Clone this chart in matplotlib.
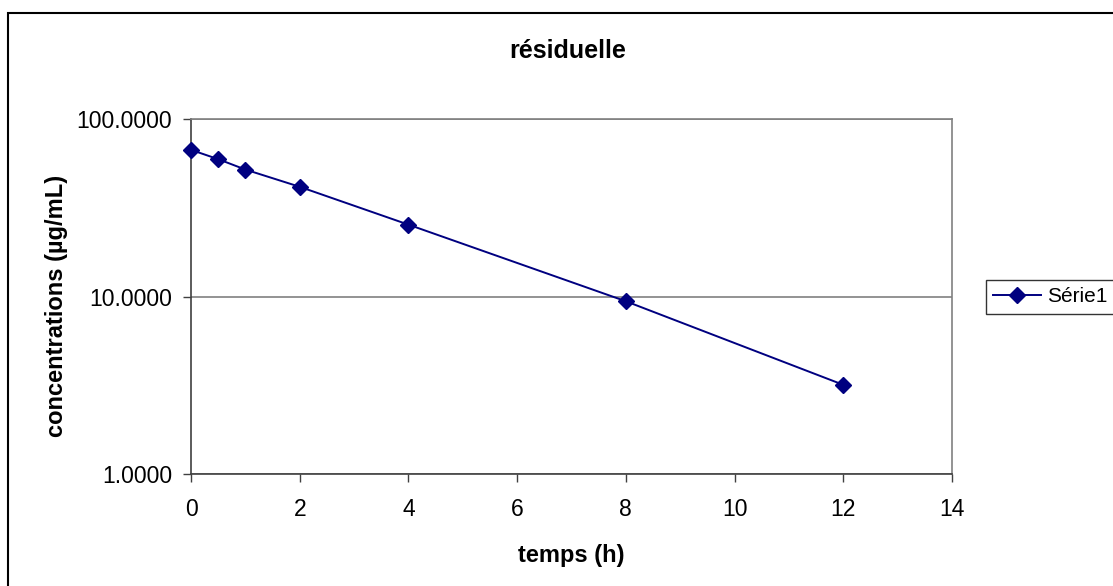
import matplotlib
matplotlib.use("Agg")
import matplotlib.pyplot as plt
from matplotlib.patches import Rectangle

plt.rcParams['font.family'] = ['Liberation Sans', 'DejaVu Sans']

temps = [0, 0.5, 1, 2, 4, 8, 12]
concentrations = [67.0, 59.4, 51.9, 41.5, 25.4, 9.4, 3.18]
series_name = "Série1"
title = "résiduelle"
xlabel = "temps (h)"
ylabel = "concentrations (µg/mL)"
xticks = [0, 2, 4, 6, 8, 10, 12, 14]
yticks = [1, 10, 100]
ytick_labels = ["1.0000", "10.0000", "100.0000"]

W, H = 1113, 586
fig = plt.figure(figsize=(W / 100, H / 100), dpi=100)

# outer chart frame
fig.patches.append(Rectangle((8 / W, -0.1), 1.2, 1 - 13 / H + 0.1,
                             transform=fig.transFigure, fill=False,
                             edgecolor='black', linewidth=1.5))

ax = fig.add_axes([191 / W, (H - 474) / H, (952 - 191) / W, (474 - 119) / H])
ax.set_yscale('log')
ax.set_xlim(0, 14)
ax.set_ylim(1, 100)

ax.plot(temps, concentrations, color='#000080', linewidth=1.4,
        marker='D', markersize=8.5, markerfacecolor='#000080',
        markeredgecolor='#000080', label=series_name, clip_on=False, zorder=5)

ax.set_xticks(xticks)
ax.set_xticklabels([str(t) for t in xticks])
ax.set_yticks(yticks)
ax.set_yticklabels(ytick_labels)
ax.yaxis.set_minor_locator(matplotlib.ticker.NullLocator())

ax.grid(axis='y', which='major', color='#808080', linewidth=1.2)
ax.tick_params(axis='both', labelsize=16.5, length=5.5, width=1, color='#404040', direction='out')
ax.tick_params(axis='x', pad=12)
ax.tick_params(axis='y', pad=8)

for s in ['top', 'right']:
    ax.spines[s].set_color('#808080')
    ax.spines[s].set_linewidth(1.2)
for s in ['left', 'bottom']:
    ax.spines[s].set_color('#404040')
    ax.spines[s].set_linewidth(1.2)

fig.text(567.5 / W, 1 - 58 / H, title, fontsize=18, fontweight='bold',
         ha='center', va='baseline')
fig.text(571.5 / W, 1 - 562 / H, xlabel, fontsize=17, fontweight='bold',
         ha='center', va='baseline')
fig.text(56 / W, 1 - 306 / H, ylabel, fontsize=17, fontweight='bold',
         ha='center', va='center', rotation=90)

leg = fig.legend(loc='center left', bbox_to_anchor=(986 / W, 1 - 297 / H),
                 fontsize=15, frameon=True, fancybox=False, handlelength=2.3,
                 borderpad=0.35, handletextpad=0.3, borderaxespad=0)
leg.get_frame().set_edgecolor('black')
leg.get_frame().set_linewidth(1)

fig.savefig("out.png", dpi=100)
